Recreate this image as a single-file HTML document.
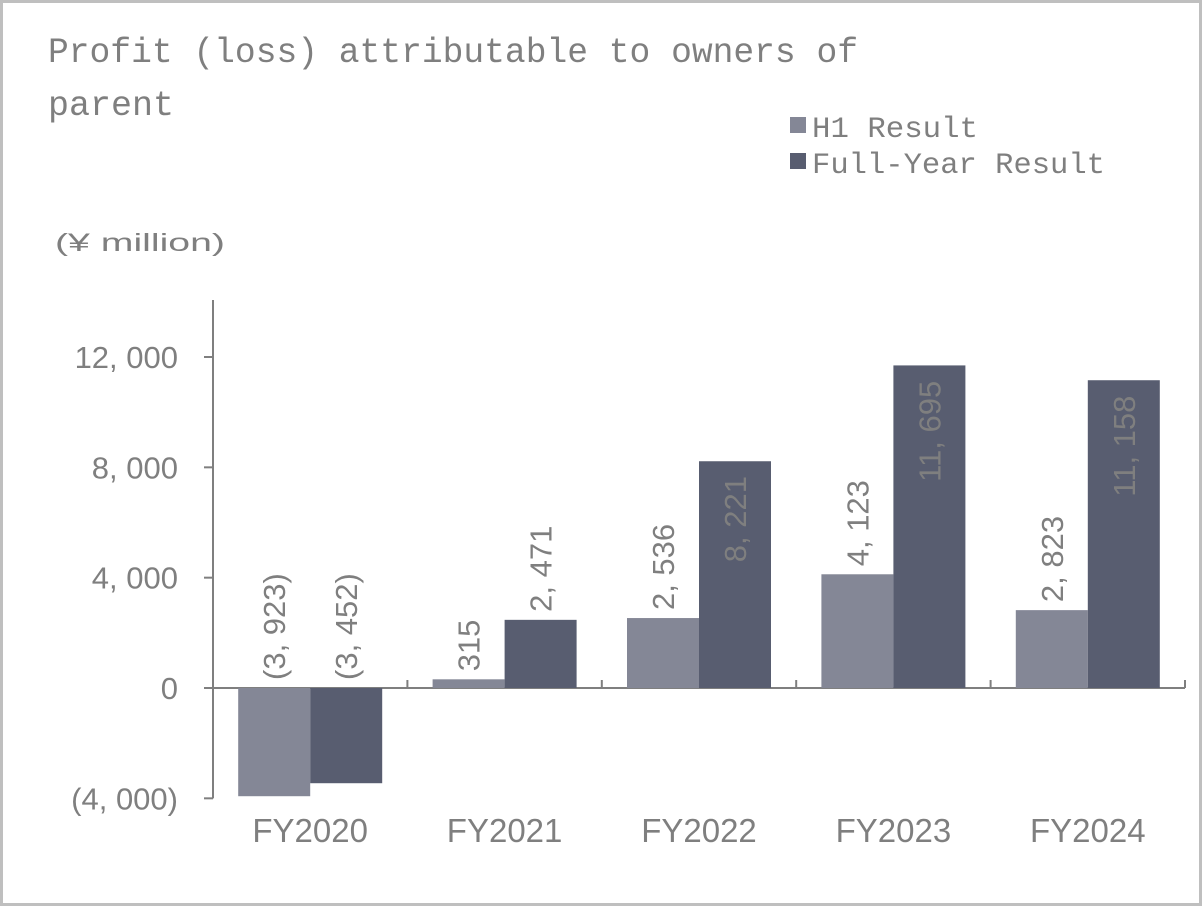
<!DOCTYPE html>
<html><head><meta charset="utf-8"><style>
html,body{margin:0;padding:0;background:#fff}
svg{display:block}
text{font-family:"Liberation Sans","Noto Sans CJK JP",sans-serif;fill:#7f7f7f}
.mono{font-family:"Liberation Mono","Noto Sans CJK JP",monospace}
</style></head><body>
<svg id="chart" width="1202" height="906" viewBox="0 0 1202 906">
<rect x="1.5" y="1.5" width="1199" height="903" fill="#fff" stroke="#bfbfbf" stroke-width="3"/>
<text class="mono" x="48" y="62" font-size="35" textLength="810" lengthAdjust="spacingAndGlyphs">Profit (loss) attributable to owners of</text>
<text class="mono" x="48" y="115" font-size="35" textLength="126" lengthAdjust="spacingAndGlyphs">parent</text>
<rect x="790" y="117" width="16" height="16" fill="#848796"/>
<text class="mono" x="812" y="137" font-size="30" textLength="166" lengthAdjust="spacingAndGlyphs">H1 Result</text>
<rect x="790" y="153" width="16" height="16" fill="#585d70"/>
<text class="mono" x="812" y="173" font-size="30" textLength="293" lengthAdjust="spacingAndGlyphs">Full-Year Result</text>
<text x="55" y="251" font-size="25" textLength="170" lengthAdjust="spacingAndGlyphs">(¥ million)</text>
<g id="plot"></g>
</svg>
<script>
const categories = ["FY2020","FY2021","FY2022","FY2023","FY2024"];
const h1Values = [-3923, 315, 2536, 4123, 2823];
const fullValues = [-3452, 2471, 8221, 11695, 11158];
const yTicks = [-4000, 0, 4000, 8000, 12000];

const NS = "http://www.w3.org/2000/svg";
const g = document.getElementById("plot");
const X0 = 213, X1 = 1185, Y0 = 688, PX = 331 / 12000, YTOP = 300;
const y = v => Y0 - v * PX;
const catW = (X1 - X0) / categories.length;
const barW = 72;
function fmt(v){ const s = Math.abs(v).toLocaleString("en-US").replace(",", ", "); return v < 0 ? "(" + s + ")" : s; }
function el(tag, attrs){ const e = document.createElementNS(NS, tag); for (const k in attrs) e.setAttribute(k, attrs[k]); g.appendChild(e); return e; }

// y axis
let a = el("line", {x1:X0, y1:YTOP, x2:X0, y2:y(-4000), stroke:"#7f7f7f", "stroke-width":2});


yTicks.forEach(t => {
  const tk = el("line", {x1:X0-9, y1:y(t), x2:X0, y2:y(t), stroke:"#7f7f7f", "stroke-width":2});
  
  
  const lb = el("text", {x:178, y:y(t)+11, "font-size":31, "text-anchor":"end"});
  lb.textContent = fmt(t);
  
  
});
// x axis
a = el("line", {x1:X0, y1:Y0, x2:X1, y2:Y0, stroke:"#7f7f7f", "stroke-width":2});


for (let i = 1; i <= categories.length; i++) {
  const tk = el("line", {x1:X0+i*catW, y1:Y0-8, x2:X0+i*catW, y2:Y0, stroke:"#7f7f7f", "stroke-width":2});
  
  
}
function bar(v, x, color, name){
  const top = Math.min(y(v), Y0), h = Math.abs(y(v) - Y0);
  const r = el("rect", {x:x, y:top, width:barW, height:h, fill:color});
  
  
  const txt = fmt(v);
  const len = txt.length * 15.5;
  const cx = x + barW/2 + 11;
  let startY, fill = "#7f7f7f";
  if (v < 0) startY = Y0 - 8;
  else if (h > len + 30) { startY = top + 8 + len; fill = "#ffffff"; }
  else startY = top - 8;
  const t = el("text", {x:0, y:0, "font-size":31, transform:`translate(${cx},${startY}) rotate(-90)`, fill:fill});
  t.textContent = txt;
  
  
}
categories.forEach((c, i) => {
  const cx = X0 + catW*(i+0.5);
  bar(h1Values[i], cx - barW, "#848796", "bar-h1-" + c.toLowerCase());
  bar(fullValues[i], cx, "#585d70", "bar-full-year-" + c.toLowerCase());
  const lb = el("text", {x:cx, y:842, "font-size":33, "text-anchor":"middle"});
  lb.textContent = c;
  
  
});
</script>
</body></html>
